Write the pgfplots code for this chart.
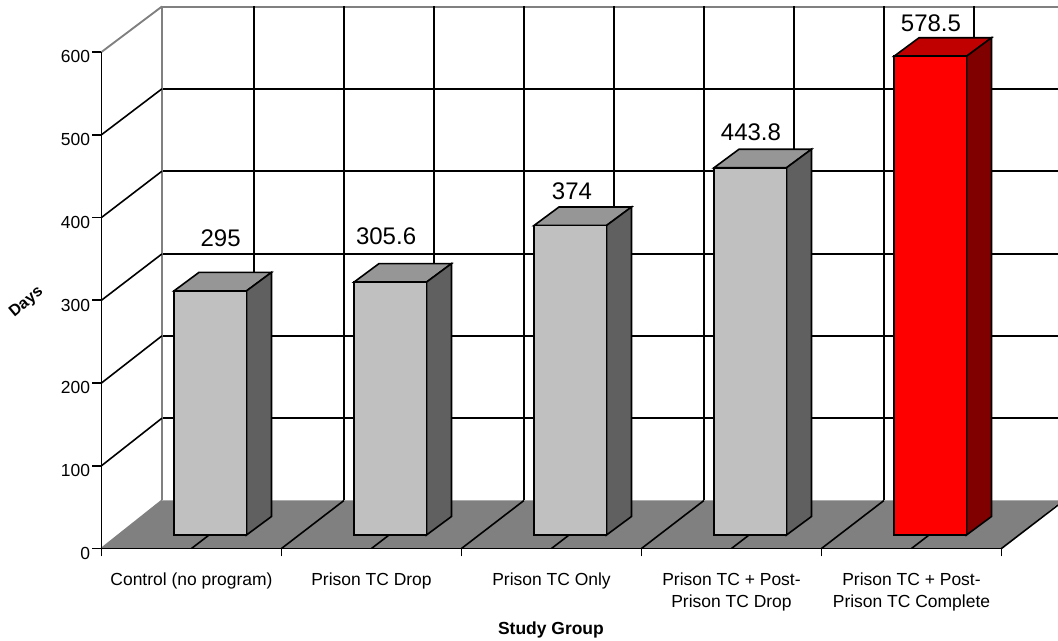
\documentclass[border=0pt]{standalone}
\usepackage{pgfplots}
\pgfplotsset{compat=1.18}
\usepackage{fontspec}
\setmainfont{Liberation Sans}

\definecolor{floorgray}{RGB}{128,128,128}
\definecolor{barfront}{RGB}{192,192,192}
\definecolor{bartop}{RGB}{150,150,150}
\definecolor{barside}{RGB}{96,96,96}
\definecolor{redfront}{RGB}{255,0,0}
\definecolor{redtop}{RGB}{192,0,0}
\definecolor{redside}{RGB}{128,0,0}

% front left x, value, front, top, side colour
\newcommand{\threedbar}[5]{%
  \pgfmathsetmacro{\xa}{#1}%
  \pgfmathsetmacro{\xb}{#1+0.4028}%
  \pgfmathsetmacro{\xc}{#1+0.4028+0.139}%
  \pgfmathsetmacro{\xd}{#1+0.139}%
  \pgfmathsetmacro{\ya}{16.3}%
  \pgfmathsetmacro{\yb}{#2+16.3}%
  \pgfmathsetmacro{\yc}{#2+16.3+22.4}%
  \pgfmathsetmacro{\yd}{16.3+22.4}%
  \addplot[draw=black,fill=#4] coordinates {(\xa,\yb) (\xb,\yb) (\xc,\yc) (\xd,\yc)} --cycle;
  \addplot[draw=black,fill=#5] coordinates {(\xb,\ya) (\xc,\yd) (\xc,\yc) (\xb,\yb)} --cycle;
  \addplot[draw=black,fill=#3] coordinates {(\xa,\ya) (\xb,\ya) (\xb,\yb) (\xa,\yb)} --cycle;
}

\pgfplotstableread{
x y label
0.662 374.4 295
1.581 376.8 305.6
2.614 432 374
3.608 503.3 443.8
4.608 635 578.5
}\valuelabels

\begin{document}
\begin{tikzpicture}
\useasboundingbox (0,0) rectangle (793.5pt,480.75pt);
\clip (0,0) rectangle (793.5pt,480.75pt);
\begin{axis}[
    at={(76.125pt,69.375pt)},
    anchor=south west,
    scale only axis,
    width=675pt,
    height=372.375pt,
    xmin=0, xmax=5,
    ymin=0, ymax=600,
    clip=false,
    axis on top,
    axis x line=bottom,
    axis y line=left,
    axis line style={-,black,line width=1.2pt},
    every tick/.style={black,line width=1.2pt},
    tick align=outside,
    xtick={0.5,1.5,2.5,3.5,4.5},
    minor xtick={0,1,2,3,4,5},
    xticklabels={{Control (no program)},{Prison TC Drop},{Prison TC Only},{Prison TC + Post-\\Prison TC Drop},{Prison TC + Post-\\Prison TC Complete}},
    major x tick style={draw=none},
    minor tick length=6pt,
    major tick length=7pt,
    typeset ticklabels with strut,
    xticklabel style={align=center,font=\fontsize{13.1}{16.5}\selectfont,inner sep=0pt,yshift=-8.5pt},
    ytick={0,100,200,300,400,500,600},
    yticklabel style={font=\fontsize{13.1}{16}\selectfont,inner sep=1pt,yshift=-5pt},
    /pgf/number format/assume math mode=true,
    xlabel={Study Group},
    xlabel style={font=\fontsize{13.1}{15}\selectfont\bfseries,at={(axis description cs:0.4994,-0.164)},anchor=center},
    ylabel={Days},
    ylabel style={font=\fontsize{12}{14}\selectfont\bfseries,rotate=-50,at={(axis description cs:-0.0833,0.4955)},anchor=center},
    line width=1.2pt,
]
% floor
\addplot[draw=none,fill=floorgray] coordinates {(0,0) (5,0) (5.336,58) (0.336,58)} --cycle;
% back wall grid
\addplot[black] coordinates {(0.336,157.5) (5.4,157.5)};
\addplot[black] coordinates {(0.336,257) (5.4,257)};
\addplot[black] coordinates {(0.336,356) (5.4,356)};
\addplot[black] coordinates {(0.336,456) (5.4,456)};
\addplot[black] coordinates {(0.336,555.5) (5.4,555.5)};
\addplot[floorgray,line width=1.4pt] coordinates {(0.336,654.7) (5.4,654.7)};
\addplot[black] coordinates {(0.847,58) (0.847,655)};
\addplot[black] coordinates {(1.347,58) (1.347,655)};
\addplot[black] coordinates {(1.847,58) (1.847,655)};
\addplot[black] coordinates {(2.347,58) (2.347,655)};
\addplot[black] coordinates {(2.847,58) (2.847,655)};
\addplot[black] coordinates {(3.347,58) (3.347,655)};
\addplot[black] coordinates {(3.847,58) (3.847,655)};
\addplot[black] coordinates {(4.347,58) (4.347,655)};
\addplot[black] coordinates {(4.847,58) (4.847,655)};
\addplot[floorgray,line width=1.4pt] coordinates {(0.3375,58) (0.3375,655)};
% left wall grid
\addplot[black] coordinates {(0,100) (0.336,157.5)};
\addplot[black] coordinates {(0,200) (0.336,257)};
\addplot[black] coordinates {(0,300) (0.336,356)};
\addplot[black] coordinates {(0,400) (0.336,456)};
\addplot[black] coordinates {(0,500) (0.336,555.5)};
\addplot[floorgray,line width=1.4pt] coordinates {(0,600) (0.336,655)};
\addplot[floorgray,line width=1.4pt] coordinates {(0,0) (0.336,58)};
% floor lines
\addplot[black] coordinates {(0.5,0) (0.847,58)};
\addplot[black] coordinates {(1,0) (1.347,58)};
\addplot[black] coordinates {(1.5,0) (1.847,58)};
\addplot[black] coordinates {(2,0) (2.347,58)};
\addplot[black] coordinates {(2.5,0) (2.847,58)};
\addplot[black] coordinates {(3,0) (3.347,58)};
\addplot[black] coordinates {(3.5,0) (3.847,58)};
\addplot[black] coordinates {(4,0) (4.347,58)};
\addplot[black] coordinates {(4.5,0) (4.847,58)};
\addplot[black] coordinates {(5,0) (5.347,58)};
% bars
\threedbar{0.4028}{295}{barfront}{bartop}{barside}
\threedbar{1.4028}{305.6}{barfront}{bartop}{barside}
\threedbar{2.4028}{374}{barfront}{bartop}{barside}
\threedbar{3.4028}{443.8}{barfront}{bartop}{barside}
\threedbar{4.4028}{578.5}{redfront}{redtop}{redside}
% value labels
\addplot[draw=none,
    nodes near coords,
    point meta=explicit symbolic,
    every node near coord/.style={anchor=center,inner sep=0pt,font=\fontsize{18}{20}\selectfont}]
    table[x=x,y=y,meta=label] {\valuelabels};
\end{axis}
\end{tikzpicture}
\end{document}
